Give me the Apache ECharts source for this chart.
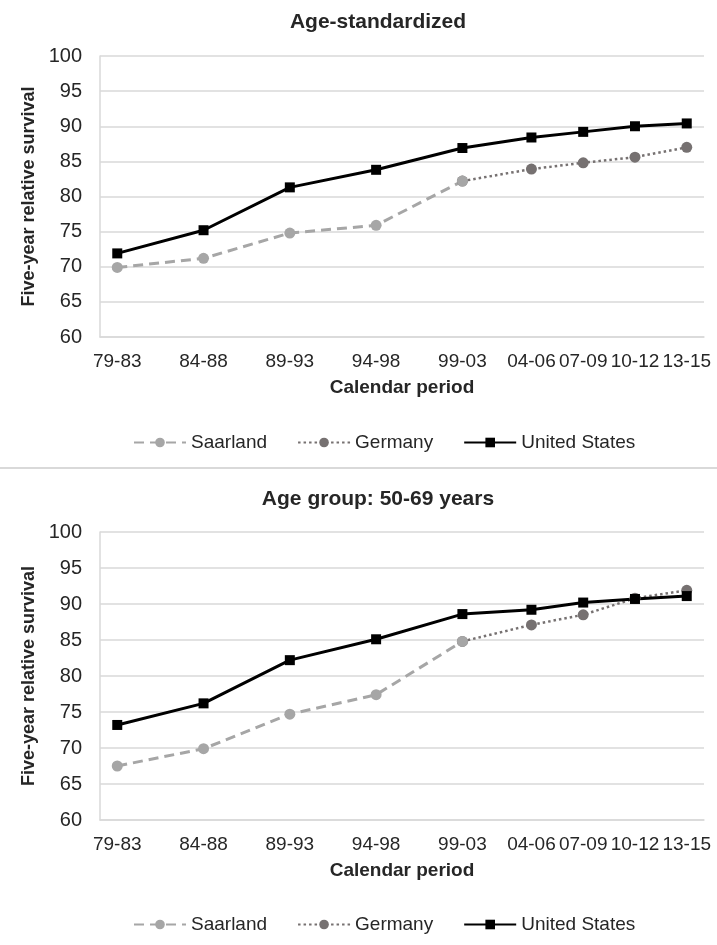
<!DOCTYPE html>
<html>
<head>
<meta charset="utf-8">
<script src="https://cdn.jsdelivr.net/npm/echarts@6/dist/echarts.min.js"></script>
<style>
  html, body { margin: 0; padding: 0; background: #fff; }
  #chart { width: 717px; height: 945px; }
</style>
</head>
<body>
<div id="chart"></div>
<script>
// calendar periods and their mid-years (x positions follow the years)
var periods = ['79-83', '84-88', '89-93', '94-98', '99-03', '04-06', '07-09', '10-12', '13-15'];
var midYears = [1981, 1986, 1991, 1996, 2001, 2005, 2008, 2011, 2014];
var yTicks = [60, 65, 70, 75, 80, 85, 90, 95, 100];
var panelTitles = ['Age-standardized', 'Age group: 50-69 years'];
var seriesNames = ['Saarland', 'Germany', 'United States'];

// Age-standardized
var saarlandStd = [69.9, 71.2, 74.8, 75.9, 82.2];
var germanyStd = [82.2, 83.9, 84.8, 85.6, 87.0];
var usStd = [71.9, 75.2, 81.3, 83.8, 86.9, 88.4, 89.2, 90.0, 90.4];

// Age group 50-69
var saarland5069 = [67.5, 69.9, 74.7, 77.4, 84.8];
var germany5069 = [84.8, 87.1, 88.5, 90.8, 91.9];
var us5069 = [73.2, 76.2, 82.2, 85.1, 88.6, 89.2, 90.2, 90.7, 91.1];

var font = "'Liberation Sans', Arial, sans-serif";
var txt = '#262626';
var gridCol = '#d9d9d9';

function pairs(vals, offset) {
  return vals.map(function (v, i) { return [midYears[i + offset], v]; });
}

var grids = [
  { left: 100, right: 13, top: 56, height: 281 },
  { left: 100, right: 13, top: 532, height: 288 }
];

function makeX(idx) {
  return {
    type: 'value', gridIndex: idx, min: 1980, max: 2015,
    name: 'Calendar period', nameLocation: 'middle', nameGap: 41,
    nameTextStyle: { fontFamily: font, fontSize: 19, fontWeight: 'bold', color: txt },
    axisLine: { show: true, lineStyle: { color: gridCol, width: 1.5 } },
    axisTick: { show: false },
    splitLine: { show: false },
    axisLabel: {
      customValues: midYears,
      margin: 15,
      fontFamily: font, fontSize: 19, color: txt,
      formatter: function (v) { return periods[midYears.indexOf(v)]; }
    }
  };
}

function makeY(idx) {
  return {
    type: 'value', gridIndex: idx, min: yTicks[0], max: yTicks[yTicks.length - 1], interval: 5,
    name: 'Five-year relative survival', nameLocation: 'middle', nameGap: 56,
    nameTextStyle: { fontFamily: font, fontSize: 18, fontWeight: 'bold', color: txt },
    axisLine: { show: true, lineStyle: { color: gridCol, width: 1.5 } },
    axisTick: { show: false },
    splitLine: { show: true, lineStyle: { color: gridCol, width: 1.5 } },
    axisLabel: { margin: 18, fontFamily: font, fontSize: 20, color: txt }
  };
}

function makeSeries(idx, saar, ger, us) {
  return [
    {
      name: 'Germany', type: 'line', xAxisIndex: idx, yAxisIndex: idx,
      data: pairs(ger, 4), symbol: 'circle', symbolSize: 11,
      itemStyle: { color: '#767171' },
      lineStyle: { color: '#767171', width: 2.5, type: [2.5, 3] }
    },
    {
      name: 'Saarland', type: 'line', xAxisIndex: idx, yAxisIndex: idx,
      data: pairs(saar, 0), symbol: 'circle', symbolSize: 11,
      itemStyle: { color: '#a6a6a6' },
      lineStyle: { color: '#a6a6a6', width: 3, type: [10, 6] }
    },
    {
      name: 'United States', type: 'line', xAxisIndex: idx, yAxisIndex: idx,
      data: pairs(us, 0), symbol: 'rect', symbolSize: 10,
      itemStyle: { color: '#000' },
      lineStyle: { color: '#000', width: 3 }
    }
  ];
}

function makeLegend(top) {
  return {
    data: seriesNames, top: top, left: 128,
    itemWidth: 52, itemHeight: 12, itemGap: 30,
    textStyle: { fontFamily: font, fontSize: 19, color: txt }
  };
}

var chart = echarts.init(document.getElementById('chart'));
chart.setOption({
  animation: false,
  title: [
    { text: panelTitles[0], left: 373, top: 7, textAlign: 'center',
      textStyle: { fontFamily: font, fontSize: 21, fontWeight: 'bold', color: txt } },
    { text: panelTitles[1], left: 373, top: 484, textAlign: 'center',
      textStyle: { fontFamily: font, fontSize: 21, fontWeight: 'bold', color: txt } }
  ],
  legend: [makeLegend(428), makeLegend(910)],
  grid: grids,
  xAxis: [makeX(0), makeX(1)],
  yAxis: [makeY(0), makeY(1)],
  series: makeSeries(0, saarlandStd, germanyStd, usStd)
    .concat(makeSeries(1, saarland5069, germany5069, us5069)),
  graphic: [{
    type: 'line', shape: { x1: 0, y1: 468, x2: 717, y2: 468 },
    style: { stroke: '#d9d9d9', lineWidth: 2 }
  }]
});
</script>
</body>
</html>
